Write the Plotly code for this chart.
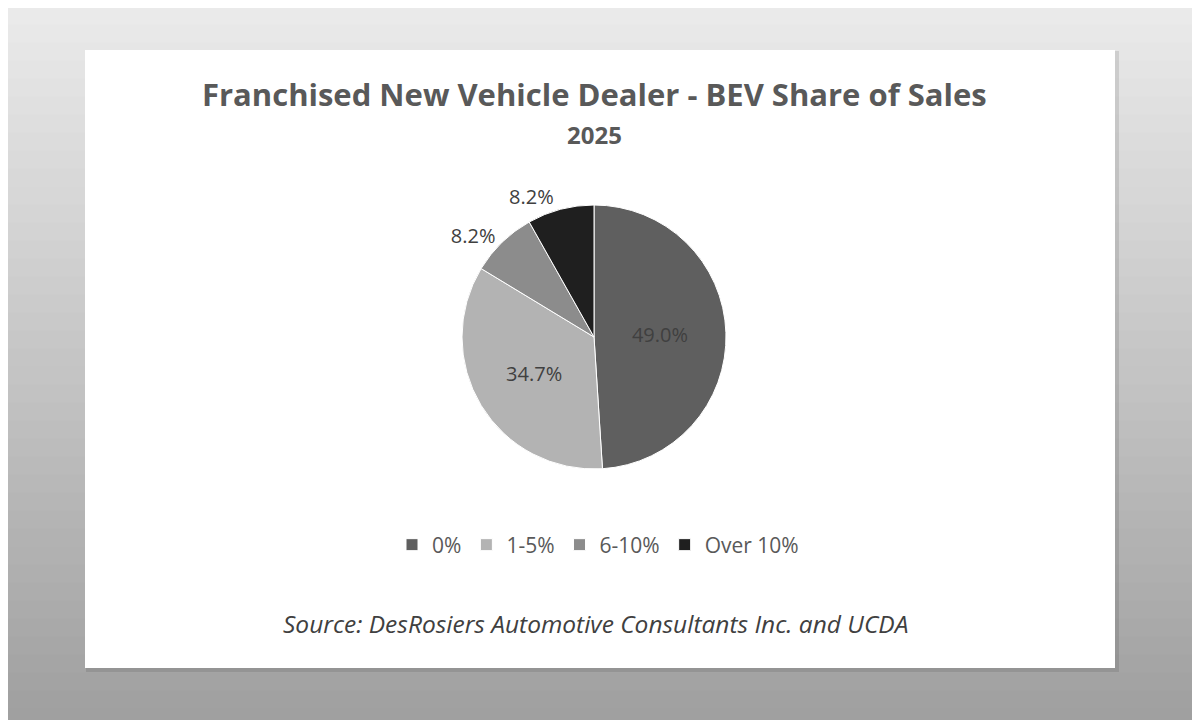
import plotly.graph_objects as go

categories = ["0%", "1-5%", "6-10%", "Over 10%"]
dealer_counts = [24, 17, 4, 4]
slice_colors = ["#5f5f5f", "#b3b3b3", "#8c8c8c", "#1f1f1f"]
label_positions = ["inside", "inside", "outside", "outside"]

title_text = "Franchised New Vehicle Dealer - BEV Share of Sales"
subtitle_text = "2025"
source_text = "Source: DesRosiers Automotive Consultants Inc. and UCDA"

W, H = 1200, 720
FONT = "Open Sans"
OFF = 8  # page offset of the figure in the browser


def px(x):
    return (x - OFF) / W


def py(y):
    return 1 - (y - OFF) / H


fig = go.Figure()

fig.add_trace(go.Pie(
    labels=categories,
    values=dealer_counts,
    sort=False,
    direction="clockwise",
    rotation=0,
    marker=dict(colors=slice_colors, line=dict(color="white", width=1)),
    texttemplate="%{percent:.1%}",
    textposition=label_positions,
    insidetextorientation="horizontal",
    textfont=dict(family=FONT, size=20, color="#404040"),
    outsidetextfont=dict(family=FONT, size=20, color="#404040"),
    domain=dict(x=[px(594 - 132), px(594 + 132)], y=[py(469), py(205)]),
    hoverinfo="label+percent",
    showlegend=True,
))

# background gradient bands
shapes = []
n = 40
top = (234, 234, 234)
bot = (160, 160, 160)
for i in range(n):
    t = i / (n - 1)
    c = tuple(int(top[k] + (bot[k] - top[k]) * t) for k in range(3))
    shapes.append(dict(type="rect", xref="paper", yref="paper",
                       x0=-0.05, x1=1.05, y0=1 - (i + 1) / n, y1=1 - i / n + 0.002,
                       fillcolor="rgb(%d,%d,%d)" % c, line=dict(width=0), layer="below"))
# shadow and white panel
shapes.append(dict(type="rect", xref="paper", yref="paper",
                   x0=px(86), x1=px(1119), y0=py(672), y1=py(51),
                   fillcolor="rgba(0,0,0,0.10)", line=dict(width=0), layer="below"))
shapes.append(dict(type="rect", xref="paper", yref="paper",
                   x0=px(85), x1=px(1115), y0=py(668), y1=py(50),
                   fillcolor="white", line=dict(width=0), layer="below"))

annotations = [
    dict(text="<b>%s</b>" % title_text, x=px(594), y=py(94), xref="paper", yref="paper",
         showarrow=False, xanchor="center", yanchor="middle",
         font=dict(family=FONT, size=31, color="#595959")),
    dict(text="<b>%s</b>" % subtitle_text, x=px(594), y=py(134), xref="paper", yref="paper",
         showarrow=False, xanchor="center", yanchor="middle",
         font=dict(family=FONT, size=24, color="#595959")),
    dict(text="<i>%s</i>" % source_text, x=px(595), y=py(623), xref="paper", yref="paper",
         showarrow=False, xanchor="center", yanchor="middle",
         font=dict(family=FONT, size=24.5, color="#404040")),
]

fig.update_layout(
    width=W, height=H,
    margin=dict(l=0, r=0, t=0, b=0),
    paper_bgcolor="#c8c8c8",
    plot_bgcolor="white",
    shapes=shapes,
    annotations=annotations,
    legend=dict(orientation="h", x=px(598), y=py(545), xanchor="center", yanchor="middle",
                font=dict(family=FONT, size=21, color="#595959"),
                bgcolor="rgba(0,0,0,0)", itemwidth=30, traceorder="normal"),
    font=dict(family=FONT),
)

fig.write_html("out.html")
